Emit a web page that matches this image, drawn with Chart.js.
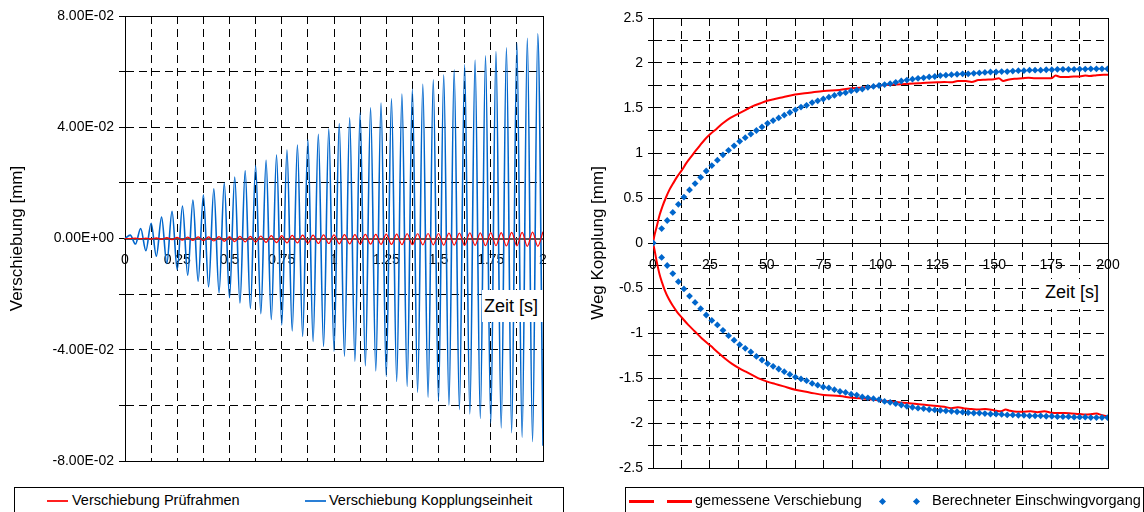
<!DOCTYPE html>
<html>
<head>
<meta charset="utf-8">
<script src="https://cdn.jsdelivr.net/npm/chart.js@4"></script>
<style>
  body { margin: 0; width: 1144px; height: 512px; position: relative; overflow: hidden; background: #fff;
         font-family: "Liberation Sans", Arial, sans-serif; color: #000; }
  canvas { position: absolute; top: 0; }
  .zeit { position: absolute; background: #fff; font-size: 18px; line-height: 18px; }
  .legend { position: absolute; border: 1px solid #000; background: #fff; height: 40px; }
  .legend span { position: absolute; font-size: 14.5px; line-height: 15px; white-space: nowrap; }
  .legend i { position: absolute; display: block; }
</style>
</head>
<body>
<canvas id="left" width="560" height="512" style="left:0"></canvas>
<canvas id="right" width="584" height="512" style="left:560px"></canvas>

<div class="zeit" style="left:482px; top:290px; width:61px; height:32px;"><span style="position:absolute; left:2px; top:7px;">Zeit [s]</span></div>
<div class="zeit" style="left:1040px; top:279px; width:67px; height:30px;"><span style="position:absolute; left:5px; top:4px;">Zeit [s]</span></div>

<div class="legend" style="left:14px; top:487px; width:548px;">
  <i style="left:32px; top:12px; width:21px; height:2px; background:#ff2020;"></i>
  <span style="left:57px; top:5px;">Verschiebung Prüfrahmen</span>
  <i style="left:290px; top:12px; width:21px; height:2px; background:#2a7fd6;"></i>
  <span style="left:314px; top:5px;">Verschiebung Kopplungseinheit</span>
</div>
<div class="legend" style="left:625px; top:487px; width:517px;">
  <i style="left:3px; top:12px; width:25px; height:3px; background:#ff0000;"></i>
  <i style="left:41px; top:12px; width:25px; height:3px; background:#ff0000;"></i>
  <span style="left:69px; top:5px;">gemessene Verschiebung</span>
  <i style="left:254px; top:11px; width:5px; height:5px; background:#0066cc; transform:rotate(45deg);"></i>
  <i style="left:288px; top:11px; width:5px; height:5px; background:#0066cc; transform:rotate(45deg);"></i>
  <span style="left:306px; top:5px;">Berechneter Einschwingvorgang</span>
</div>

<script>
const sampleStep = 0.025;
const kopplungseinheit = [
  0, 0.0012, -0.0020, 0.0036, -0.0044, 0.0055, -0.0064, 0.0077, -0.0090, 0.0098,
  -0.0112, 0.0117, -0.0132, 0.0138, -0.0154, 0.0157, -0.0174, 0.0179, -0.0195, 0.0199,
  -0.0213, 0.0221, -0.0232, 0.0243, -0.0251, 0.0262, -0.0270, 0.0281, -0.0291, 0.0300,
  -0.0311, 0.0318, -0.0332, 0.0336, -0.0352, 0.0356, -0.0370, 0.0375, -0.0388, 0.0394,
  -0.0405, 0.0413, -0.0423, 0.0434, -0.0441, 0.0452, -0.0458, 0.0470, -0.0476, 0.0487,
  -0.0496, 0.0502, -0.0514, 0.0519, -0.0532, 0.0537, -0.0553, 0.0554, -0.0571, 0.0571,
  -0.0585, 0.0589, -0.0599, 0.0607, -0.0615, 0.0625, -0.0631, 0.0642, -0.0647, 0.0657,
  -0.0664, 0.0672, -0.0681, 0.0686, -0.0698, 0.0704, -0.0715, 0.0720, -0.0730, 0.0736,
  -0.0745
];
const pruefrahmen = [
  0, 0, 0.0001, -0.0001, 0.0001, -0.0002, 0.0002, -0.0003, 0.0003, -0.0004,
  0.0004, -0.0006, 0.0005, -0.0007, 0.0006, -0.0008, 0.0006, -0.0009, 0.0007, -0.0010,
  0.0007, -0.0011, 0.0008, -0.0012, 0.0008, -0.0013, 0.0009, -0.0014, 0.0010, -0.0015,
  0.0010, -0.0016, 0.0011, -0.0016, 0.0012, -0.0017, 0.0012, -0.0018, 0.0013, -0.0018,
  0.0013, -0.0019, 0.0014, -0.0019, 0.0014, -0.0020, 0.0015, -0.0020, 0.0015, -0.0021,
  0.0016, -0.0021, 0.0016, -0.0022, 0.0017, -0.0022, 0.0017, -0.0023, 0.0018, -0.0023,
  0.0018, -0.0024, 0.0019, -0.0024, 0.0019, -0.0025, 0.0020, -0.0025, 0.0020, -0.0026,
  0.0021, -0.0026, 0.0021, -0.0027, 0.0022, -0.0027, 0.0022, -0.0028, 0.0023, -0.0028,
  0.0024
];

// right chart: measured envelope (red) and calculated transient (blue)
const measUpperT = [0, 0.7, 1.5, 2.9, 4.2, 5.6, 7.2, 8.8, 10.7, 12.7, 14.7, 16.8, 18.6, 20.5, 22.8, 25.2, 28, 30.7, 34, 37.8,
  40.8, 43.9, 47, 50.2, 53.5, 57.1, 62.5, 68.8, 75, 82, 87.6, 93.7, 100, 106, 112.5, 117, 120, 125, 128, 131,
  134, 137.5, 140, 143, 146, 150, 152, 154, 156, 159, 162.5, 165, 168, 171, 175, 177, 179, 182, 185, 187.5,
  190, 192, 195, 198, 200];
const measUpper = [0, 0.09, 0.17, 0.31, 0.41, 0.50, 0.59, 0.66, 0.74, 0.81, 0.89, 0.96, 1.02, 1.08, 1.15, 1.21, 1.27, 1.33, 1.39, 1.44,
  1.48, 1.52, 1.55, 1.58, 1.60, 1.62, 1.65, 1.67, 1.69, 1.70, 1.72, 1.73, 1.75, 1.76, 1.77, 1.775, 1.78, 1.785, 1.79, 1.785,
  1.80, 1.80, 1.79, 1.81, 1.815, 1.82, 1.83, 1.80, 1.815, 1.825, 1.83, 1.835, 1.83, 1.83, 1.83, 1.86, 1.845, 1.845, 1.85, 1.85,
  1.86, 1.855, 1.865, 1.87, 1.87];
const measLowerT = [0, 0.7, 1.5, 2.9, 4, 5.1, 6.9, 8.8, 10.7, 12.7, 15.5, 18.3, 21.5, 25.2, 28.3, 31.5, 34.6, 37.8, 40.8, 43.9,
  47, 50.2, 53.6, 57.1, 62.5, 68.8, 75, 82, 87.6, 93.7, 100, 106, 112.5, 118, 125, 128, 131, 134, 137.5, 140,
  143, 146, 150, 153, 155, 157, 160, 162.5, 166, 169, 172, 175, 178, 181, 184, 187.5, 190, 193, 195, 197,
  198.5, 200];
const measLower = [0, -0.08, -0.19, -0.35, -0.44, -0.52, -0.62, -0.70, -0.77, -0.83, -0.91, -0.98, -1.06, -1.14, -1.21, -1.28, -1.34, -1.39, -1.43, -1.47,
  -1.51, -1.54, -1.565, -1.59, -1.63, -1.66, -1.69, -1.70, -1.72, -1.73, -1.75, -1.765, -1.78, -1.795, -1.81, -1.82, -1.835, -1.825, -1.84, -1.845,
  -1.85, -1.845, -1.86, -1.87, -1.85, -1.865, -1.875, -1.875, -1.87, -1.88, -1.87, -1.885, -1.89, -1.89, -1.895, -1.90, -1.905, -1.90, -1.895, -1.91,
  -1.92, -1.93];

const calcFirst = 3.8, calcStep = 2.45;
const calcUpper = [0,
  0.16, 0.25, 0.34, 0.43, 0.51, 0.59, 0.66, 0.73, 0.80, 0.86,
  0.92, 0.98, 1.03, 1.08, 1.13, 1.17, 1.21, 1.25, 1.29, 1.33,
  1.36, 1.39, 1.42, 1.45, 1.48, 1.51, 1.53, 1.56, 1.58, 1.60,
  1.62, 1.64, 1.66, 1.67, 1.69, 1.70, 1.71, 1.73, 1.74, 1.75,
  1.76, 1.77, 1.785, 1.80, 1.81, 1.82, 1.83, 1.835, 1.845, 1.85,
  1.86, 1.865, 1.87, 1.875, 1.88, 1.88, 1.885, 1.89, 1.895, 1.90,
  1.90, 1.905, 1.905, 1.91, 1.915, 1.915, 1.92, 1.92, 1.92, 1.925,
  1.925, 1.93, 1.93, 1.93, 1.93, 1.933, 1.933, 1.935, 1.935, 1.935,
  1.935];
const calcLower = [0,
  -0.16, -0.25, -0.34, -0.43, -0.51, -0.59, -0.66, -0.73, -0.80, -0.86,
  -0.91, -0.97, -1.03, -1.08, -1.13, -1.17, -1.21, -1.26, -1.30, -1.34,
  -1.37, -1.40, -1.43, -1.46, -1.49, -1.51, -1.53, -1.56, -1.58, -1.60,
  -1.61, -1.63, -1.65, -1.66, -1.68, -1.69, -1.71, -1.72, -1.73, -1.74,
  -1.76, -1.77, -1.785, -1.80, -1.815, -1.825, -1.835, -1.84, -1.85, -1.855,
  -1.86, -1.865, -1.87, -1.875, -1.88, -1.885, -1.89, -1.89, -1.895, -1.90,
  -1.90, -1.905, -1.91, -1.91, -1.915, -1.915, -1.92, -1.92, -1.92, -1.925,
  -1.925, -1.93, -1.93, -1.93, -1.935, -1.935, -1.935, -1.94, -1.94, -1.94,
  -1.94];

const FONT = '"Liberation Sans", Arial, sans-serif';

const toPoints = (xs, ys) => ys.map((y, i) => ({x: xs[i], y: y}));
const sampleTimes = kopplungseinheit.map((v, i) => +(i * sampleStep).toFixed(3));
const calcTimes = calcUpper.map((v, i) => i === 0 ? 0 : +(calcFirst + (i - 1) * calcStep).toFixed(2));

function sci(v) {
    if (Math.abs(v) < 1e-12) return '0.00E+00';
    const parts = v.toExponential(2).split('e');
    const sign = parts[1][0] === '-' ? '-' : '+';
    return parts[0] + 'E' + sign + parts[1].replace(/[+-]/, '').padStart(2, '0');
}

// frame round the plot area
const plotFrame = {
    id: 'plotFrame',
    beforeDatasetsDraw(chart) {
        const a = chart.chartArea, ctx = chart.ctx;
        ctx.save();
        ctx.strokeStyle = '#000';
        ctx.lineWidth = 1;
        ctx.strokeRect(Math.round(a.left) + 0.5, Math.round(a.top) + 0.5,
            Math.round(a.right - a.left), Math.round(a.bottom - a.top));
        ctx.restore();
    }
};

Chart.defaults.font.family = FONT;
Chart.defaults.color = '#000';

new Chart(document.getElementById('left'), {
    type: 'line',
    data: {
        datasets: [{
            label: 'Verschiebung Prüfrahmen',
            data: toPoints(sampleTimes, pruefrahmen),
            borderColor: '#ff0000',
            borderWidth: 1.2,
            pointRadius: 0,
            cubicInterpolationMode: 'monotone'
        }, {
            label: 'Verschiebung Kopplungseinheit',
            data: toPoints(sampleTimes, kopplungseinheit),
            borderColor: '#0066cc',
            borderWidth: 1.6,
            pointRadius: 0,
            cubicInterpolationMode: 'monotone'
        }]
    },
    options: {
        responsive: false,
        animation: false,
        devicePixelRatio: 1,
        layout: { padding: { left: 0, top: 16, right: 17, bottom: 51 } },
        plugins: { legend: { display: false }, tooltip: { enabled: false } },
        scales: {
            x: {
                type: 'linear',
                position: { y: 0 },
                min: 0, max: 2,
                ticks: {
                    stepSize: 0.125, autoSkip: false, maxRotation: 0, padding: 13,
                    font: { size: 14 },
                    callback: v => (Math.round(v / 0.125) % 2 === 0) ? String(+v.toFixed(2)) : ''
                },
                grid: { color: '#000', lineWidth: 1, drawTicks: false },
                border: { display: true, color: '#555', width: 2, dash: [8, 5] }
            },
            y: {
                min: -0.08, max: 0.08,
                afterFit: s => { s.width = 125; },
                ticks: {
                    stepSize: 0.02, autoSkip: false, padding: 5,
                    font: { size: 14 },
                    callback: v => (Math.round(v / 0.02) % 2 === 0) ? sci(v) : ''
                },
                grid: { color: '#000', lineWidth: 1, tickLength: 6, tickColor: '#000' },
                border: { display: true, color: '#000', width: 1, dash: [8, 5] },
                title: { display: true, text: 'Verschiebung [mm]', font: { size: 17 }, padding: { top: 7, bottom: 0 } }
            }
        }
    },
    plugins: [plotFrame]
});

new Chart(document.getElementById('right'), {
    type: 'line',
    data: {
        datasets: [{
            label: 'Berechneter Einschwingvorgang',
            data: toPoints(calcTimes, calcUpper),
            showLine: false,
            pointStyle: 'rectRot',
            pointRadius: 3.4,
            backgroundColor: '#0066cc',
            borderWidth: 0
        }, {
            label: 'Berechneter Einschwingvorgang (unten)',
            data: toPoints(calcTimes, calcLower),
            showLine: false,
            pointStyle: 'rectRot',
            pointRadius: 3.4,
            backgroundColor: '#0066cc',
            borderWidth: 0
        }, {
            label: 'gemessene Verschiebung',
            data: toPoints(measUpperT, measUpper),
            borderColor: '#ff0000',
            borderWidth: 2,
            pointRadius: 0,
            cubicInterpolationMode: 'monotone'
        }, {
            label: 'gemessene Verschiebung (unten)',
            data: toPoints(measLowerT, measLower),
            borderColor: '#ff0000',
            borderWidth: 2,
            pointRadius: 0,
            cubicInterpolationMode: 'monotone'
        }]
    },
    options: {
        responsive: false,
        animation: false,
        devicePixelRatio: 1,
        layout: { padding: { left: 0, top: 18, right: 36, bottom: 44 } },
        plugins: { legend: { display: false }, tooltip: { enabled: false } },
        scales: {
            x: {
                type: 'linear',
                position: { y: 0 },
                min: 0, max: 200,
                ticks: {
                    stepSize: 12.5, autoSkip: false, maxRotation: 0, padding: 14,
                    font: { size: 14 },
                    callback: v => (Math.round(v / 12.5) % 2 === 0) ? String(v) : ''
                },
                grid: { color: '#000', lineWidth: 1, drawTicks: false },
                border: { display: true, color: '#000', width: 1, dash: [8, 5] }
            },
            y: {
                min: -2.5, max: 2.5,
                afterFit: s => { s.width = 93; },
                ticks: {
                    stepSize: 0.25, autoSkip: false, padding: 5,
                    font: { size: 14 },
                    callback: v => (Math.round(v / 0.25) % 2 === 0) ? String(+v.toFixed(2)) : ''
                },
                grid: { color: '#000', lineWidth: 1, tickLength: 5, tickColor: '#000' },
                border: { display: true, color: '#000', width: 1, dash: [8, 5] },
                title: { display: true, text: 'Weg Kopplung [mm]', font: { size: 17 }, padding: { top: 28, bottom: 0 } }
            }
        }
    },
    plugins: [plotFrame]
});
</script>
</body>
</html>
